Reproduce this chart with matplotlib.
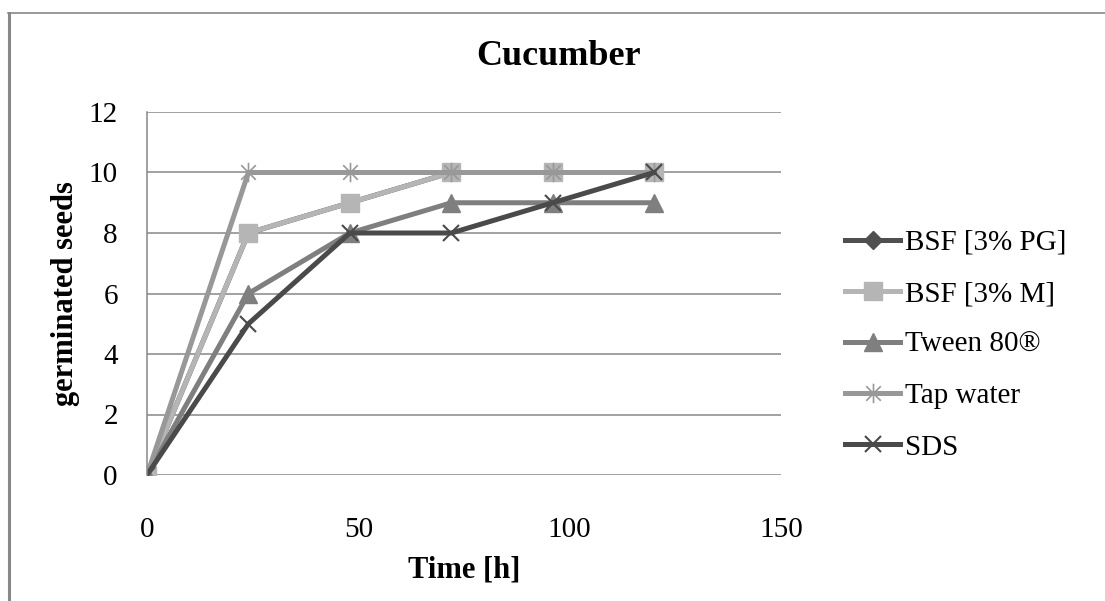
import matplotlib
matplotlib.use("Agg")
import matplotlib.pyplot as plt
from matplotlib.path import Path
from matplotlib.lines import Line2D

plt.rcParams['font.family'] = ['Liberation Serif', 'DejaVu Serif']

time_h = [0, 24, 48, 72, 96, 120]
bsf_pg = [0, 8, 9, 10, 10, 10]
bsf_m = [0, 8, 9, 10, 10, 10]
tween80 = [0, 6, 8, 9, 9, 9]
tap_water = [0, 10, 10, 10, 10, 10]
sds = [0, 5, 8, 8, 9, 10]

labels = ["BSF [3% PG]", "BSF [3% M]", "Tween 80®", "Tap water", "SDS"]

star = Path([(0, -1), (0, 1), (-0.75, -0.75), (0.75, 0.75), (-0.75, 0.75), (0.75, -0.75)],
            [Path.MOVETO, Path.LINETO, Path.MOVETO, Path.LINETO, Path.MOVETO, Path.LINETO])

W, H = 1105, 601
fig = plt.figure(figsize=(W / 100, H / 100), dpi=100)
ax_l, ax_r, ax_b, ax_t = 147 / W, 781 / W, (H - 475) / H, (H - 112) / H
ax = fig.add_axes([ax_l, ax_b, ax_r - ax_l, ax_t - ax_b])

grid_c = '#878787'
for y in range(0, 13, 2):
    ax.axhline(y, color=grid_c, lw=1.1, zorder=0)

lw = 3.6
ax.plot(time_h, bsf_pg, color='#4f4f4f', lw=lw, marker='D', ms=9, label=labels[0])
ax.plot(time_h, bsf_m, color='#b5b5b5', lw=lw, marker='s', ms=13, label=labels[1])
ax.plot(time_h, tween80, color='#7f7f7f', lw=lw, marker='^', ms=13, label=labels[2])
ax.plot(time_h, tap_water, color='#989898', lw=lw, marker=star, ms=14, mew=1.2,
        mec='#989898', label=labels[3])
ax.plot(time_h, sds, color='#4a4a4a', lw=lw, marker='x', ms=11, mew=1.5, label=labels[4])

ax.set_xlim(0, 150)
ax.set_ylim(0, 12)
ax.set_xticks([0, 50, 100, 150])
ax.set_yticks(range(0, 13, 2))
ax.tick_params(axis='both', length=0, labelsize=21)
ax.tick_params(axis='y', pad=21)
ax.tick_params(axis='x', pad=30)
for s in ['top', 'right', 'bottom']:
    ax.spines[s].set_visible(False)
ax.spines['left'].set_color(grid_c)
ax.spines['left'].set_linewidth(1.1)

ax.set_xlabel("Time [h]", fontsize=22, fontweight='bold')
ax.xaxis.label.set_va('baseline')
ax.xaxis.set_label_coords(0.5, ((H - 578) / H - ax_b) / (ax_t - ax_b))
ax.set_ylabel("germinated seeds", fontsize=22, fontweight='bold')
ax.yaxis.label.set_va('center')
ax.yaxis.set_label_coords((65 / W - ax_l) / (ax_r - ax_l), 0.5)

fig.text(559 / W, 1 - 65 / H, "Cucumber", fontsize=26, fontweight='bold',
         ha='center', va='baseline')

fig.legend(loc='center left', bbox_to_anchor=(845 / W, 1 - 345 / H), frameon=False,
           fontsize=21, handlelength=1.9, handletextpad=0.15, labelspacing=0.85,
           borderaxespad=0, borderpad=0)

fig.add_artist(Line2D([9 / W, 9 / W], [0, 1 - 12.5 / H], color='#888888', lw=2.2,
                      transform=fig.transFigure))
fig.add_artist(Line2D([8 / W, 1], [1 - 12.5 / H, 1 - 12.5 / H], color='#888888', lw=1.2,
                      transform=fig.transFigure))

fig.savefig("out.png", dpi=100)
